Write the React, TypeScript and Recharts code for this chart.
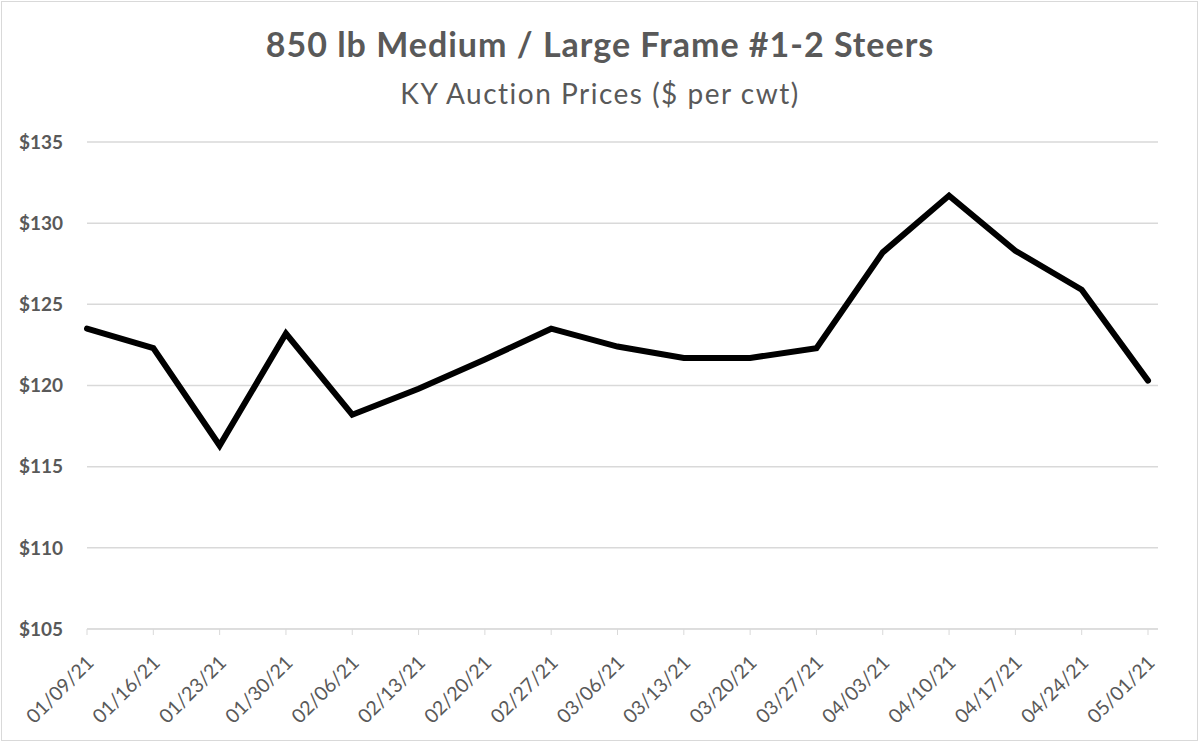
import { LineChart, Line, XAxis, YAxis, CartesianGrid } from 'recharts';

const weeks = [
  '01/09/21', '01/16/21', '01/23/21', '01/30/21', '02/06/21', '02/13/21',
  '02/20/21', '02/27/21', '03/06/21', '03/13/21', '03/20/21', '03/27/21',
  '04/03/21', '04/10/21', '04/17/21', '04/24/21', '05/01/21',
];
const prices = [
  123.5, 122.3, 116.3, 123.2, 118.2, 119.8, 121.6, 123.5, 122.4,
  121.7, 121.7, 122.3, 128.2, 131.7, 128.3, 125.9, 120.3,
];
const priceTicks = [105, 110, 115, 120, 125, 130, 135];

const chartData = weeks.map((week, i) => ({ week, price: prices[i] }));

const FONT = 'Lato, "Open Sans", sans-serif';
const GREY = '#595959';

// rotated date labels, ending just below-right of the tick
function DateTick({ x, y, payload }: any) {
  const ax = x + 8;
  const ay = y + 27;
  return (
    <text
      x={ax}
      y={ay}
      transform={`rotate(-45, ${ax}, ${ay})`}
      textAnchor="end"
      fontFamily={FONT}
      fontSize={19.5}
      fill={GREY}
    >
      {payload.value}
    </text>
  );
}

export default function App() {
  return (
    <div style={{ position: 'absolute', top: 0, left: 0, width: 1200, height: 743, background: '#fff' }}>
      <div
        style={{
          position: 'absolute', left: 1, top: 1, width: 1195, height: 738,
          border: '1.5px solid #d9d9d9',
        }}
      />
      <div
        style={{
          position: 'absolute', top: 23, left: 0, width: 1200, textAlign: 'center',
          fontFamily: FONT, fontWeight: 700, fontSize: 34, letterSpacing: 1, color: GREY,
          lineHeight: 'normal',
        }}
      >
        850 lb Medium / Large Frame #1-2 Steers
      </div>
      <div
        style={{
          position: 'absolute', top: 76, left: 0, width: 1200, textAlign: 'center',
          fontFamily: FONT, fontSize: 28, letterSpacing: 1.5, color: GREY,
          lineHeight: 'normal',
        }}
      >
        KY Auction Prices ($ per cwt)
      </div>
      <div style={{ position: 'absolute', top: 0, left: 0 }}>
        <LineChart
          width={1200}
          height={743}
          data={chartData}
          margin={{ top: 142, right: 42, bottom: 14, left: 0 }}
        >
          <CartesianGrid vertical={false} stroke="#d9d9d9" strokeWidth={1.5} />
          <XAxis
            dataKey="week"
            interval={0}
            height={100}
            padding={{ left: 0, right: 10 }}
            stroke="#d9d9d9"
            tickSize={6}
            tick={<DateTick />}
          />
          <YAxis
            domain={[105, 135]}
            ticks={priceTicks}
            width={87}
            axisLine={false}
            tickLine={false}
            tickSize={0}
            tickMargin={24}
            tickFormatter={(v: number) => `$${v}`}
            tick={{ fontFamily: FONT, fontSize: 19, fontWeight: 700, fill: GREY }}
          />
          <Line
            type="linear"
            dataKey="price"
            stroke="#000"
            strokeWidth={6}
            strokeLinecap="round"
            dot={false}
            isAnimationActive={false}
          />
        </LineChart>
      </div>
    </div>
  );
}
